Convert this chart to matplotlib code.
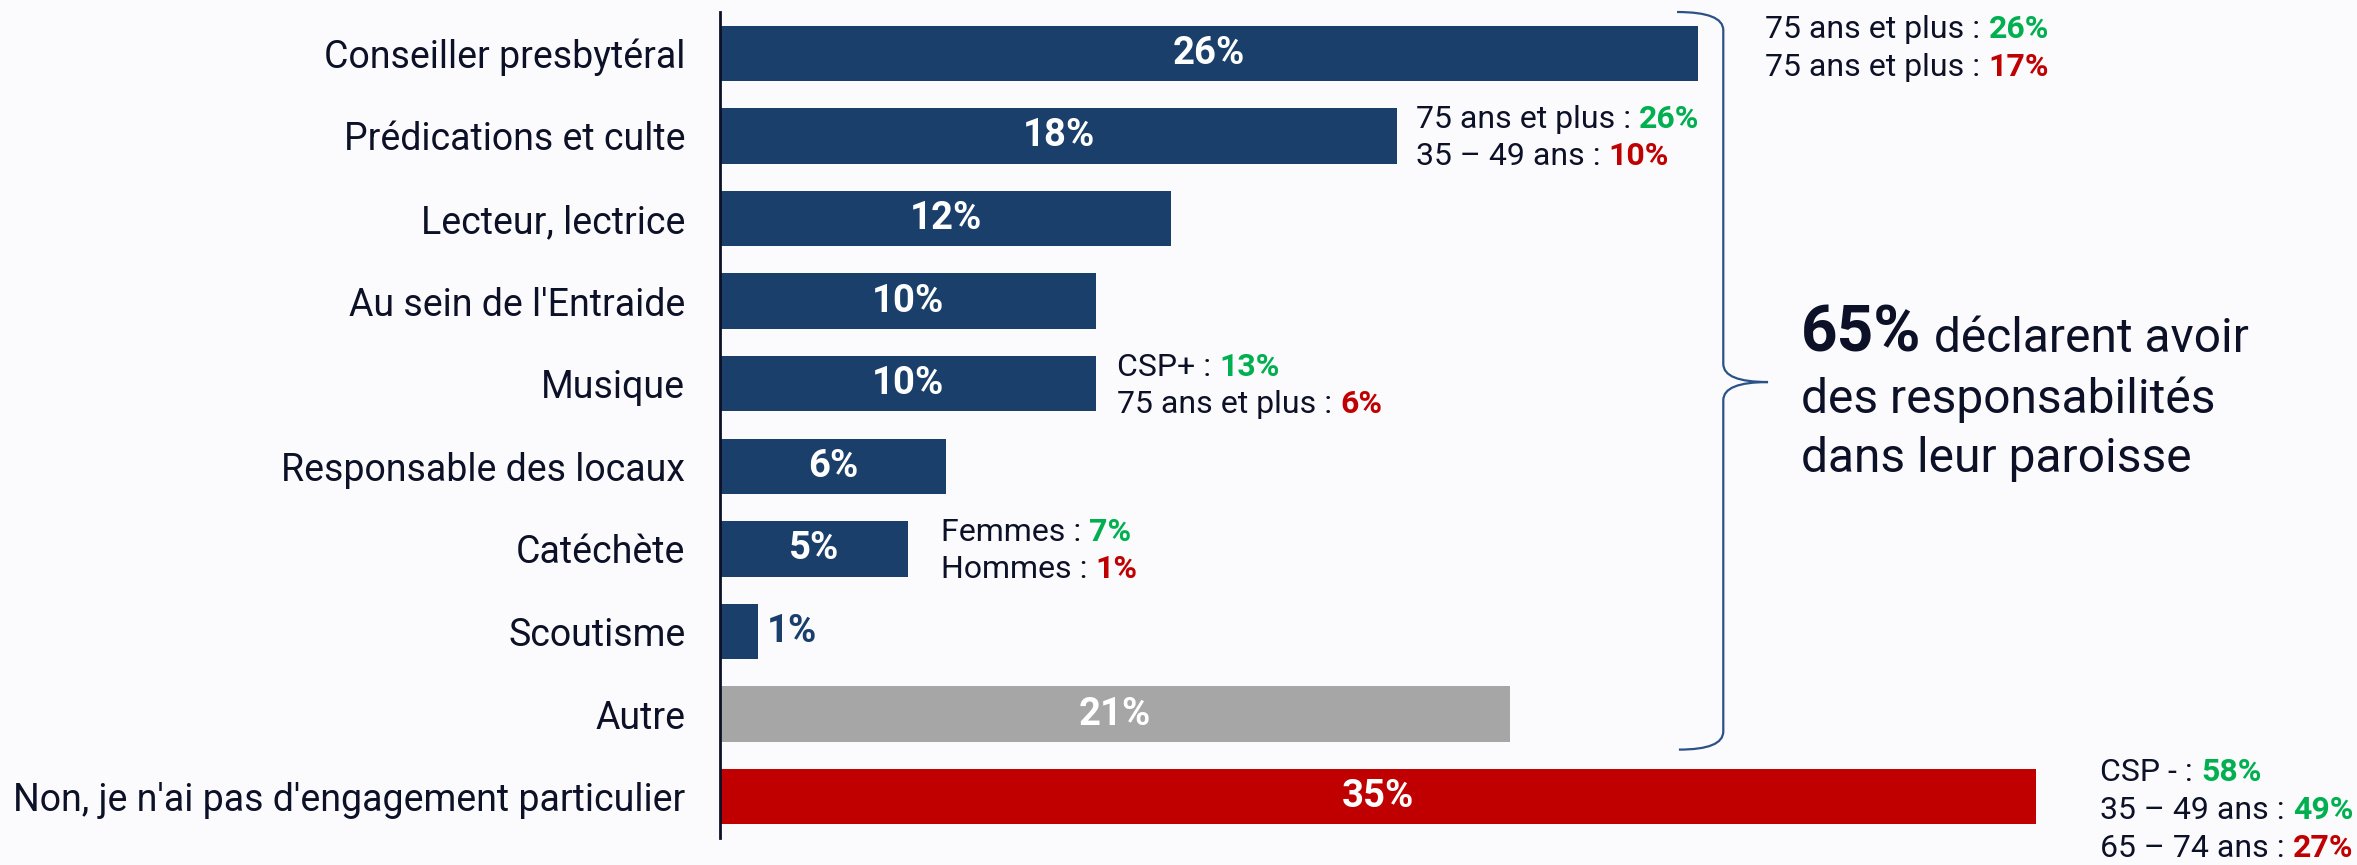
import matplotlib as mpl
mpl.use('Agg')
import matplotlib.pyplot as plt
from matplotlib.path import Path
from matplotlib.patches import PathPatch

# data
categories = ['Conseiller presbytéral', 'Prédications et culte', 'Lecteur, lectrice',
              "Au sein de l'Entraide", 'Musique', 'Responsable des locaux', 'Catéchète',
              'Scoutisme', 'Autre', "Non, je n'ai pas d'engagement particulier"]
values = [26, 18, 12, 10, 10, 6, 5, 1, 21, 35]

note_rows = [0, 1, 4, 6, 9]
note_labels = [['75 ans et plus', '75 ans et plus'],
               ['75 ans et plus', '35 – 49 ans'],
               ['CSP+', '75 ans et plus'],
               ['Femmes', 'Hommes'],
               ['CSP -', '35 – 49 ans', '65 – 74 ans']]
note_values = [[26, 17], [26, 10], [13, 6], [7, 1], [58, 49, 27]]
note_high = [[True, False], [True, False], [True, False], [True, False], [True, True, False]]

total_resp = 65

# couleurs
navy = '#1b3f6b'
grey = '#a6a6a6'
red = '#c00000'
green = '#00b050'
dark = '#0d1128'
bg = '#fbfbfd'

plt.rcParams['font.family'] = ['Roboto', 'DejaVu Sans']

fig = plt.figure(figsize=(23.57, 8.65), dpi=100, facecolor=bg)
ax = fig.add_axes([720 / 2357, 27 / 865, 1617 / 2357, 826 / 865])
ax.set_facecolor(bg)

bar_colors = [navy] * 8 + [grey, red]
ypos = range(len(values))
ax.barh(ypos, values, height=0.67, color=bar_colors)
ax.set_ylim(9.5, -0.5)
ax.set_xlim(0, 43)

ax.set_yticks(list(ypos))
ax.set_yticklabels(categories, fontsize=27, color=dark)
ax.tick_params(axis='y', length=0, pad=25)
ax.set_xticks([])
for s in ['top', 'right', 'bottom']:
    ax.spines[s].set_visible(False)
ax.spines['left'].set_color(dark)
ax.spines['left'].set_linewidth(2)

# valeurs
for i, v in enumerate(values):
    if v >= 3:
        ax.text(v / 2, i, '%d%%' % v, ha='center', va='center', color='white',
                fontsize=27.5, fontweight='bold')
    else:
        ax.text(v + 0.25, i, '%d%%' % v, ha='left', va='center', color=navy,
                fontsize=27.5, fontweight='bold')

# annotations
note_x = {0: 27.8, 1: 18.5, 4: 10.56, 6: 5.88, 9: 36.7}
def two_tone(x, y, head, tail, col):
    t = ax.text(x, y, head + ' : ', fontsize=23, color=dark, ha='left', va='center',
                clip_on=False)
    ax.annotate(tail, xy=(1, 0), xycoords=t, ha='left', va='bottom', fontsize=23,
                fontweight='bold', color=col, annotation_clip=False)

for r, labs, vals, hi in zip(note_rows, note_labels, note_values, note_high):
    if r in (0, 9):
        offs = [-0.29, 0.17, 0.63]
    else:
        offs = [-0.2, 0.25]
    for k in range(len(labs)):
        two_tone(note_x[r], r + offs[k], labs[k], '%d%%' % vals[k], green if hi[k] else red)

# accolade
xv, xl, xt = 26.68, 25.45, 27.87
y0, y1, ym, d = -0.5, 8.43, 3.98, 0.22
verts = [(xl, y0), (xv, y0), (xv, y0 + d),
         (xv, ym - d),
         (xv, ym), (xt, ym),
         (xv, ym), (xv, ym + d),
         (xv, y1 - d),
         (xv, y1), (xl + 0.05, y1)]
codes = [Path.MOVETO, Path.CURVE3, Path.CURVE3,
         Path.LINETO,
         Path.CURVE3, Path.CURVE3,
         Path.CURVE3, Path.CURVE3,
         Path.LINETO,
         Path.CURVE3, Path.CURVE3]
ax.add_patch(PathPatch(Path(verts, codes), fill=False, edgecolor='#2a5287', lw=1.6,
                       clip_on=False))

# texte de synthèse
W, H = 2357, 865
t65 = fig.text(1801 / W, 1 - 352 / H, '%d%%' % total_resp, fontsize=46, fontweight='bold',
               color=dark, va='baseline', ha='left')
fig.canvas.draw()
bb = t65.get_window_extent()
fig.text(bb.x1 / W, 1 - 352 / H, ' déclarent avoir', fontsize=34.5, color=dark,
         va='baseline', ha='left')
fig.text(1801 / W, 1 - 413 / H, 'des responsabilités', fontsize=34.5, color=dark,
         va='baseline', ha='left')
fig.text(1801 / W, 1 - 472 / H, 'dans leur paroisse', fontsize=34.5, color=dark,
         va='baseline', ha='left')

plt.savefig('out.png', dpi=100, facecolor=bg)
